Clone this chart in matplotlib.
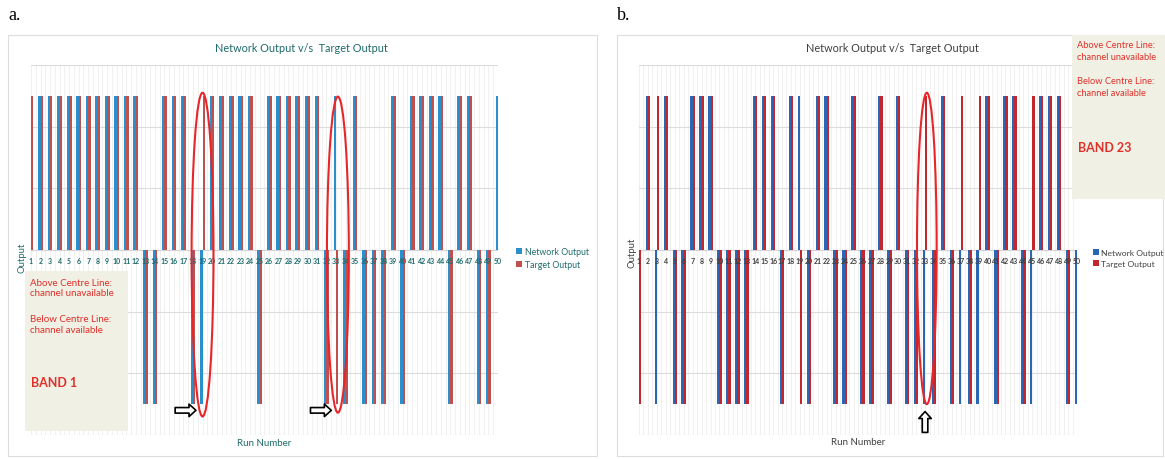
import numpy as np
import matplotlib.pyplot as plt
from matplotlib.patches import Ellipse, Rectangle

plt.rcParams['font.family'] = ['Lato', 'DejaVu Sans']

runs = np.arange(1, 51)

# +1 = above centre line (channel unavailable), -1 = below (channel available)
network_a = [1, 1, 1, 1, 1, 1, 1, 1, 1, 1, 1, 1, -1, -1, 1, 1, 1, -1, -1, 1,
             1, 1, 1, 1, -1, 1, 1, 1, 1, 1, 1, -1, 1, -1, 1, -1, -1, -1, 1, -1,
             1, 1, 1, 1, -1, 1, 1, -1, -1, 1]
target_a = [1, 1, 1, 1, 1, 1, 1, 1, 1, 1, 1, 1, -1, -1, 1, 1, 1, -1, 1, 1,
            1, 1, 1, 1, -1, 1, 1, 1, 1, 1, 1, -1, -1, -1, 1, -1, -1, -1, 1, -1,
            1, 1, 1, 1, -1, 1, 1, -1, -1, 1]

network_b = [-1, 1, -1, 1, -1, -1, 1, 1, 1, -1, -1, -1, -1, 1, 1, 1, -1, 1, 1, -1,
             1, 1, -1, -1, 1, -1, -1, 1, -1, 1, -1, -1, -1, -1, 1, -1, -1, -1, -1, 1,
             -1, 1, 1, -1, -1, 1, 1, 1, -1, -1]
target_b = [-1, 1, 1, 1, -1, -1, 1, 1, 1, -1, -1, -1, -1, 1, 1, 1, -1, 1, -1, -1,
            1, 1, -1, -1, 1, -1, -1, 1, -1, 1, -1, -1, 1, -1, 1, -1, 1, -1, 1, 1,
            -1, 1, 1, -1, 1, 1, 1, 1, -1, -1]

W, H = 1165, 460
fig = plt.figure(figsize=(W / 100, H / 100), dpi=100)


def fx(px):
    return px / W


def fy(py):
    return 1 - py / H


def draw_panel(left, right, net, tgt, blue, red, txt_color):
    ax = fig.add_axes([fx(left), fy(436), fx(right - left), (436 - 66) / H])
    w = 0.25
    b1 = ax.bar(runs - w / 2, net, width=w, color=blue, linewidth=0, zorder=2,
                label='Network Output')
    b2 = ax.bar(runs + w / 2, tgt, width=w, color=red, linewidth=0, zorder=2,
                label='Target Output')
    ax.set_xlim(1, 50)
    ax.set_ylim(-1.2, 1.2)
    ax.set_yticks(np.arange(-1.2, 1.21, 0.4))
    ax.set_xticks([])
    ax.set_xticks(np.arange(1, 50.01, 0.5), minor=True)
    ax.yaxis.grid(True, color='#dcdcdc', lw=0.8)
    ax.xaxis.grid(True, which='minor', color='#eeeeee', lw=0.6)
    ax.set_axisbelow(True)
    ax.axhline(0, color='#d4d4d4', lw=0.8, zorder=1)
    ax.tick_params(which='both', length=0, labelbottom=False, labelleft=False)
    for s in ax.spines.values():
        s.set_visible(False)
    for r in runs:
        ax.text(r, -0.065, str(r), ha='center', va='center', fontsize=5,
                fontweight='bold', color=txt_color, zorder=4)
    return ax, [b1, b2]


def note_box(x0, y0, x1, y1, lines, band, band_y, size):
    fig.patches.append(Rectangle((fx(x0), fy(y1)), fx(x1 - x0), (y1 - y0) / H,
                                 transform=fig.transFigure, facecolor='#f0f0e4',
                                 edgecolor='none', zorder=5))
    for text, y in lines:
        fig.text(fx(x0 + 5), fy(y), text, fontsize=size, color='#e0302a',
                 va='center', zorder=6)
    fig.text(fx(x0 + 6), fy(band_y), band, fontsize=9, fontweight='bold',
             color='#e0302a', va='center', zorder=6)


# panel frames
for x0, x1 in [(8, 597), (617, 1163)]:
    fig.patches.append(Rectangle((fx(x0), fy(457)), fx(x1 - x0), (457 - 36) / H,
                                 transform=fig.transFigure, facecolor='none',
                                 edgecolor='#dddddd', lw=0.8))

fig.text(fx(8), fy(15), 'a.', family='Liberation Serif', fontsize=13, va='center')
fig.text(fx(617), fy(15), 'b.', family='Liberation Serif', fontsize=13, va='center')

# ---- panel a
teal = '#1f6b6b'
ax_a, h_a = draw_panel(31, 498, network_a, target_a, '#2a8fcd', '#c0504d', teal)
fig.text(fx(301), fy(48), 'Network Output v/s  Target Output', fontsize=7.8,
         color=teal, ha='center', va='center')
fig.text(fx(22), fy(258), 'Output', rotation=90, fontsize=6.8, color=teal,
         ha='center', va='center')
fig.text(fx(264), fy(444), 'Run Number', fontsize=7, color=teal,
         ha='center', va='center')
fig.legend(h_a, ['Network Output', 'Target Output'], loc='center left',
           bbox_to_anchor=(fx(508), fy(259)), frameon=False, fontsize=6.3,
           handlelength=0.7, handleheight=0.7, handletextpad=0.3, labelspacing=0.5,
           labelcolor=teal)
note_box(25, 272, 128, 432,
         [('Above Centre Line:', 283), ('channel unavailable', 294),
          ('Below Centre Line:', 320), ('channel available', 331)],
         'BAND 1', 383, 7)

for run, h in [(19.0, 2.1), (33.2, 2.05)]:
    ax_a.add_patch(Ellipse((run, -0.03), 2.3, h, facecolor='none',
                           edgecolor='#e8262a', lw=1.5, zorder=5, clip_on=False))
for tip in [18.6, 32.8]:
    ax_a.annotate('', xy=(tip, -1.04), xytext=(-19, 0), textcoords='offset points',
                  arrowprops=dict(arrowstyle='simple,head_length=0.5,head_width=0.9,tail_width=0.4',
                                  fc='white', ec='black', lw=1.2), zorder=6)

# ---- panel b
dark = '#404040'
ax_b, h_b = draw_panel(639, 1077, network_b, target_b, '#2a66b4', '#c1272d', dark)
fig.text(fx(892), fy(48), 'Network Output v/s  Target Output', fontsize=7.8,
         color=dark, ha='center', va='center')
fig.text(fx(632), fy(253), 'Output', rotation=90, fontsize=6.8, color=dark,
         ha='center', va='center')
fig.text(fx(858), fy(443), 'Run Number', fontsize=7, color=dark,
         ha='center', va='center')
fig.legend(h_b, ['Network Output', 'Target Output'], loc='center left',
           bbox_to_anchor=(fx(1085), fy(259)), frameon=False, fontsize=6.1,
           handlelength=0.7, handleheight=0.7, handletextpad=0.3, labelspacing=0.55,
           labelcolor=dark)
note_box(1072, 36, 1165, 200,
         [('Above Centre Line:', 45), ('channel unavailable', 57),
          ('Below Centre Line:', 82), ('channel available', 94)],
         'BAND 23', 148, 6.7)

ax_b.add_patch(Ellipse((33.2, 0.01), 2.2, 2.02, facecolor='none',
                       edgecolor='#e8262a', lw=1.5, zorder=5, clip_on=False))
ax_b.annotate('', xy=(33.0, -1.03), xytext=(0, -19), textcoords='offset points',
              arrowprops=dict(arrowstyle='simple,head_length=0.5,head_width=0.9,tail_width=0.4',
                              fc='white', ec='black', lw=1.2), zorder=6)

fig.savefig('out.png', dpi=100)
